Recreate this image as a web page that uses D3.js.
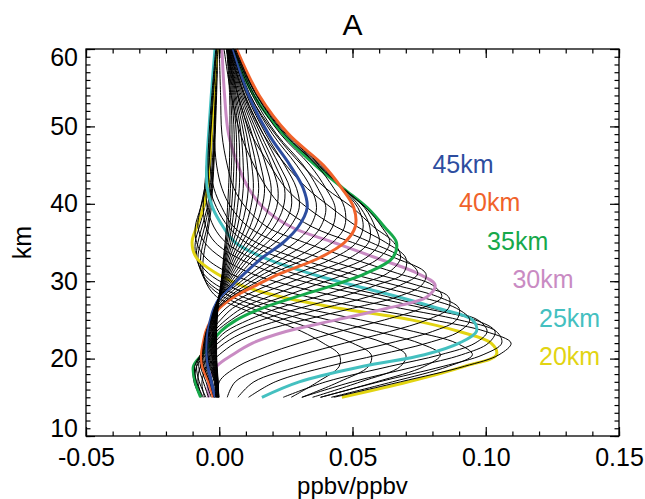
<!DOCTYPE html>
<html>
<head>
<meta charset="utf-8">
<script src="https://cdn.jsdelivr.net/npm/d3@7"></script>
<style>
  body { margin: 0; background: #fff; }
  text { font-family: "Liberation Sans", Arial, Helvetica, sans-serif; }
</style>
</head>
<body>
<script>
'use strict';

// altitude grid (km) on which every kernel row is read
const altitudes = [15, 17, 19, 20.5, 22, 23.5, 25, 26.5, 28, 29.5, 31, 33, 35, 37, 39.5, 42, 45, 49, 54, 60];

// nominal altitude of each kernel row (km)
const nominalKm = [15, 16, 17, 18, 19, 20, 21, 22, 23, 24, 25, 26, 27, 28, 29, 30,
                   31, 32, 33, 34, 35, 36, 37, 38, 39, 40, 41, 42, 43, 44, 45,
                   46, 47, 48, 49, 50, 51, 52, 53, 54, 55, 56, 57, 58, 59, 60];

// kernel values, in 1e-3 ppbv/ppbv, one row per nominal altitude
const kernels15to24 = [
  [27, 37, 45, 45, 39, 31, 20, 8, -1, -4.5, -6, -6, -5, -4, -3, -2.5, -2, -1.5, -1, -0.5],
  [31, 45, 56, 57, 50, 38, 25, 12, 1.5, -4, -6.5, -7, -6, -4.5, -3.5, -2.8, -2.2, -1.7, -1.2, -0.6],
  [35, 53, 68, 70, 62, 48, 32, 17, 4.5, -3, -6.5, -8, -7, -5.5, -4, -3, -2.4, -1.8, -1.3, -0.6],
  [38, 59, 77, 83, 75, 59, 41, 23, 8.5, -1, -6, -8.5, -8, -6.5, -4.5, -3.5, -2.7, -2, -1.4, -0.7],
  [42, 65, 86, 95, 89, 73, 53, 32, 14, 3, -4, -8.5, -9, -7.5, -5.5, -4, -3.2, -2.5, -1.7, -0.8],
  [46, 71, 92, 104, 102, 90, 72, 45, 23, 8, -1, -8.5, -10.2, -8.5, -6, -4.5, -3.7, -3, -2, -0.8],
  [43, 68, 92, 105, 109.5, 100, 80, 55, 33, 16, 4, -5, -8.5, -9, -7, -5, -4, -3.2, -2.2, -1],
  [38, 60, 84, 99, 106, 104, 90, 68, 45, 26, 12, 1, -5.5, -8, -7, -5.5, -4.5, -3.5, -2.5, -1.2],
  [31, 50, 74, 91, 101, 103.5, 96, 77, 57, 37, 21, 7, -1.5, -5, -6, -5.5, -4.8, -3.8, -2.8, -1.4],
  [24, 40, 64, 83, 96, 100.5, 97, 80, 63, 44, 28, 12, 2.5, -2, -4.5, -5, -4.8, -4, -3, -1.5]
];
const kernels25to34 = [
  [16, 30, 54, 77, 90, 96.5, 95, 82, 67, 50, 34, 17, 6, 1.5, -2.5, -4.5, -4.7, -4, -3, -1.6],
  [11, 21, 41, 60, 78, 90, 94, 89, 75, 58, 42, 23, 10, 3.5, -1, -3.5, -4.2, -3.8, -2.8, -1.3],
  [7, 13, 30, 46, 64, 80, 89, 90, 82, 66, 49, 29, 14, 5.5, 1, -2, -3.5, -3.3, -2.5, -1],
  [3, 6, 18, 31, 47, 64, 78, 86, 86, 74, 58, 38, 22, 11, 4.5, 1, -1, -1.8, -1.5, -0.5],
  [0, 0, 7, 17, 30, 45, 62, 76, 83.5, 80, 67, 49, 32, 18, 10, 5.5, 3, 1, 0.5, 0],
  [-4, -4, -1, 5, 12.5, 25, 44, 63, 78, 81, 74.5, 59, 43, 27, 16.5, 11, 7, 3.5, 2, 1],
  [-5.5, -6.5, -4.5, 0, 6, 16, 32, 50, 67, 76, 77.5, 66, 50, 35, 24, 18, 13, 8, 4.5, 1.8],
  [-6.5, -8, -7, -3, 2, 10, 23, 39, 56, 68, 74.5, 69, 57, 44, 33, 25, 19, 12, 7, 2.6],
  [-7, -9, -8.5, -5, -0.5, 5.5, 16, 30, 46, 59, 69, 70, 62.5, 52, 42, 33, 25, 16.5, 9.5, 3.4],
  [-7, -9.5, -9.5, -6, -2, 2.5, 11, 22, 37, 51, 63, 68, 65.5, 58, 50, 40, 31, 21, 11.5, 4.2]
];
const kernels35to45 = [
  [-7, -9, -9.7, -6.5, -3, 0.5, 6.5, 16, 29, 43, 55, 65, 66.5, 62, 55.5, 46.5, 36, 24, 13, 5],
  [-6, -8.5, -9.2, -7, -4, -1, 4.5, 12, 24, 36, 48, 60, 64, 61, 55, 46.5, 37, 25, 14, 5.3],
  [-5, -7.5, -8.5, -7, -4.5, -2, 2.5, 8.5, 18.5, 30, 41, 55, 60, 58.5, 54.5, 46.5, 37.5, 25.5, 14.3, 5.7],
  [-4, -6, -7.7, -7, -5, -3, 0.5, 5, 13, 24, 35, 49, 56, 56.5, 53, 46.5, 38, 25.8, 14.7, 6],
  [-3, -5, -7, -6.8, -5.5, -4, -1.5, 2.5, 9, 18.5, 29, 43, 51.5, 54, 52, 46, 38.5, 26, 15, 6.3],
  [-2.2, -4, -6.3, -6.7, -6, -5, -3, 0, 5.6, 14, 23, 37.5, 47, 51, 50.5, 46, 39, 26, 15, 6.5],
  [-2, -3.6, -5.8, -6.3, -5.8, -4.9, -3.1, -0.4, 4.6, 12, 20, 33, 42.5, 47, 47, 43, 36.5, 24.5, 14, 6.1],
  [-1.9, -3.2, -5.3, -5.9, -5.5, -4.8, -3.2, -0.8, 3.6, 10, 17, 28.5, 37.5, 42.5, 43.5, 40, 34, 23, 13.2, 5.7],
  [-1.7, -2.8, -4.8, -5.4, -5.2, -4.6, -3.2, -1.2, 2.5, 8, 14.5, 24, 33, 38, 40, 37, 31.5, 21.5, 12.5, 5.3],
  [-1.6, -2.5, -4.4, -5, -4.9, -4.4, -3.3, -1.6, 1.5, 6.5, 12, 20, 28.5, 34, 36.5, 34.5, 29, 20, 11.7, 5],
  [-1.5, -3, -4.2, -4.6, -4.6, -4.2, -3.3, -2, 0.5, 5, 9.5, 16, 24, 29.6, 33, 31.5, 26.5, 18.5, 11, 4.7]
];
const kernels46to60 = [
  [-1.3, -1.9, -3.6, -4.2, -4.2, -3.9, -3.1, -1.8, 0.3, 4.3, 8, 13.5, 21, 26.5, 30, 29, 24.5, 17.5, 10.3, 4.5],
  [-1.2, -1.7, -3.3, -3.8, -3.8, -3.6, -2.9, -1.7, 0.2, 3.6, 6.8, 11.5, 18, 23.5, 27, 26.5, 22.5, 16.5, 9.7, 4.3],
  [-1.1, -1.5, -3, -3.5, -3.5, -3.3, -2.7, -1.6, 0.1, 3, 5.8, 10, 15.5, 20.5, 24, 24.5, 21, 15.5, 9.2, 4.2],
  [-1, -1.4, -2.7, -3.2, -3.2, -3, -2.5, -1.5, 0, 2.5, 5, 8.5, 13.5, 18, 21.5, 22, 19.5, 14.5, 8.7, 4],
  [-0.9, -1.3, -2.4, -2.9, -2.9, -2.7, -2.3, -1.4, 0, 2.1, 4.3, 7.3, 11.5, 15.5, 18.5, 19.5, 17.5, 13.5, 8.2, 3.9],
  [-0.8, -1.2, -2.2, -2.6, -2.6, -2.5, -2.1, -1.3, -0.1, 1.8, 3.7, 6.3, 10, 13.5, 16, 17, 15.5, 12.3, 7.7, 3.7],
  [-0.7, -1.1, -2, -2.4, -2.4, -2.3, -1.9, -1.2, -0.1, 1.5, 3.2, 5.4, 8.6, 11.5, 13.8, 14.8, 13.8, 11.2, 7.2, 3.6],
  [-0.6, -1, -1.8, -2.2, -2.2, -2.1, -1.7, -1.1, -0.1, 1.3, 2.8, 4.6, 7.3, 9.8, 11.8, 12.8, 12.2, 10.2, 6.8, 3.5],
  [-0.5, -0.9, -1.6, -2, -2, -1.9, -1.6, -1, -0.1, 1.1, 2.4, 3.9, 6.1, 8.2, 10, 10.9, 10.6, 9.2, 6.3, 3.4],
  [-0.5, -0.8, -1.4, -1.8, -1.8, -1.7, -1.4, -0.9, -0.1, 1, 2, 3.3, 5.1, 6.8, 8.2, 9, 9, 8.2, 5.9, 3.3],
  [-0.4, -0.7, -1.2, -1.6, -1.6, -1.5, -1.3, -0.8, -0.1, 0.9, 1.8, 2.8, 4.3, 5.7, 6.8, 7.5, 7.7, 7.3, 5.5, 3.2],
  [-0.4, -0.6, -1.1, -1.4, -1.4, -1.3, -1.1, -0.7, -0.1, 0.8, 1.6, 2.4, 3.6, 4.7, 5.6, 6.2, 6.5, 6.4, 5.1, 3.1],
  [-0.3, -0.5, -1, -1.2, -1.2, -1.2, -1, -0.6, -0.1, 0.7, 1.4, 2.1, 3, 3.9, 4.6, 5.1, 5.5, 5.6, 4.7, 3],
  [-0.3, -0.5, -0.9, -1.1, -1.1, -1.1, -0.9, -0.5, 0, 0.6, 1.2, 1.8, 2.6, 3.2, 3.8, 4.2, 4.6, 4.8, 4.3, 2.9],
  [-0.2, -0.4, -0.8, -1, -1, -1, -0.8, -0.5, 0, 0.5, 1.1, 1.6, 2.2, 2.7, 3.1, 3.5, 3.8, 4, 3.9, 2.8]
];

// highlighted kernels
const highlightKm = [20, 25, 30, 35, 40, 45];
const highlightLabels = ["20km", "25km", "30km", "35km", "40km", "45km"];
const highlightColors = ["#e2d412", "#44c0c0", "#c98bc3", "#16a84a", "#f0622a", "#2d4d9f"];

// axes
const xTicks = [-50, 0, 50, 100, 150];
const yTicks = [10, 20, 30, 40, 50, 60];

const width = 645, height = 499;
const mLeft = 86, mRight = 619, mTop = 49, mBottom = 436;

const svg = d3.select("body").append("svg")
    .attr("width", width)
    .attr("height", height);

let x = d3.scaleLinear().domain([-50, 150]).range([mLeft, mRight]);
let y = d3.scaleLinear().domain([10, 60]).range([mBottom, mTop]);

let line = d3.line()
    .x(d => x(d.v))
    .y(d => y(d.z))
    .curve(d3.curveCatmullRom.alpha(0.5));

let rows = kernels15to24.concat(kernels25to34, kernels35to45, kernels46to60);
let curves = rows.map((r, i) => ({
    km: nominalKm[i],
    pts: r.map((v, j) => ({ v: v, z: altitudes[j] }))
}));

svg.append("g")
    .selectAll("path")
    .data(curves)
    .enter().append("path")
    .attr("d", d => line(d.pts))
    .attr("fill", "none")
    .attr("stroke", d => {
        let k = highlightKm.indexOf(d.km);
        return k < 0 ? "#000" : highlightColors[k];
    })
    .attr("stroke-width", d => highlightKm.indexOf(d.km) < 0 ? 1 : 3);

// labels of the coloured kernels
const labelAt = [[120, 19.2], [120, 24.1], [110, 29.1], [100.5, 34.0], [90, 39.1], [80, 44.0]];
svg.append("g")
    .selectAll("text")
    .data(highlightLabels)
    .enter().append("text")
    .attr("x", (d, i) => x(labelAt[i][0]))
    .attr("y", (d, i) => y(labelAt[i][1]))
    .attr("fill", (d, i) => highlightColors[i])
    .attr("font-size", 25)
    .text(d => d);

// frame and ticks (IDL style, ticks inside on every side)
function ticksX(g, axis, major) {
    g.call(axis.tickValues(major ? xTicks : d3.range(-50, 151, 10))
        .tickSize(major ? -9 : -4.5).tickSizeOuter(0));
    g.select(".domain").remove();
}
function ticksY(g, axis, major) {
    g.call(axis.tickValues(major ? yTicks : d3.range(10, 61, 1))
        .tickSize(major ? -9 : -4.5).tickSizeOuter(0));
    g.select(".domain").remove();
}

let fmt = d => (d / 1000).toFixed(2);

let xb = svg.append("g").attr("transform", `translate(0,${mBottom})`);
ticksX(xb.append("g"), d3.axisBottom(x).tickFormat(""), false);
let xbMajor = xb.append("g");
ticksX(xbMajor, d3.axisBottom(x).tickFormat(fmt), true);
xbMajor.selectAll("text").attr("y", 30).attr("dy", null);

let xt = svg.append("g").attr("transform", `translate(0,${mTop})`);
ticksX(xt.append("g"), d3.axisTop(x).tickFormat(""), false);
ticksX(xt.append("g"), d3.axisTop(x).tickFormat(""), true);

let yl = svg.append("g").attr("transform", `translate(${mLeft},0)`);
ticksY(yl.append("g"), d3.axisLeft(y).tickFormat(""), false);
let ylMajor = yl.append("g");
ticksY(ylMajor, d3.axisLeft(y).tickFormat(d3.format("d")).tickPadding(8), true);
ylMajor.selectAll("text")
    .attr("x", -8)
    .attr("transform", d => d === 60 ? "translate(0,8)" : d === 10 ? "translate(0,-8)" : null);

let yr = svg.append("g").attr("transform", `translate(${mRight},0)`);
ticksY(yr.append("g"), d3.axisRight(y).tickFormat(""), false);
ticksY(yr.append("g"), d3.axisRight(y).tickFormat(""), true);

svg.selectAll(".tick line").attr("stroke", "#000").attr("stroke-width", 1.2);
svg.selectAll(".tick text")
    .attr("font-size", 25)
    .attr("fill", "#000")
    .attr("font-family", '"Liberation Sans", Arial, Helvetica, sans-serif');

svg.append("rect")
    .attr("x", mLeft).attr("y", mTop)
    .attr("width", mRight - mLeft).attr("height", mBottom - mTop)
    .attr("fill", "none")
    .attr("stroke", "#000")
    .attr("stroke-width", 1.3);

// titles
svg.append("text")
    .attr("x", (mLeft + mRight) / 2).attr("y", 35)
    .attr("text-anchor", "middle")
    .attr("font-size", 30)
    .text("A");

svg.append("text")
    .attr("x", (mLeft + mRight) / 2).attr("y", 494)
    .attr("text-anchor", "middle")
    .attr("font-size", 24)
    .text("ppbv/ppbv");

svg.append("text")
    .attr("transform", `translate(31,${(mTop + mBottom) / 2}) rotate(-90)`)
    .attr("text-anchor", "middle")
    .attr("font-size", 25)
    .text("km");
</script>
</body>
</html>
